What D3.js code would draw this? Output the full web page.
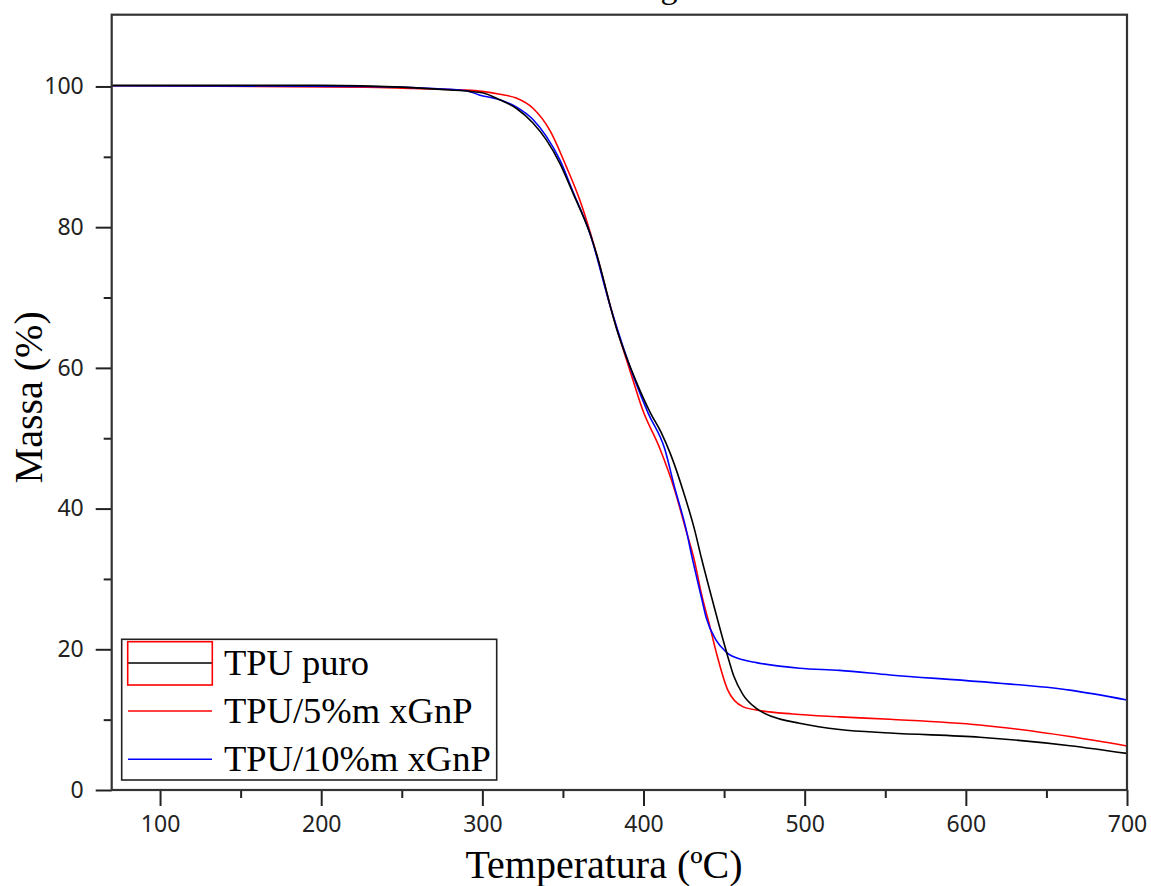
<!DOCTYPE html>
<html>
<head>
<meta charset="utf-8">
<script src="https://cdn.jsdelivr.net/npm/d3@7"></script>
<style>
  body { margin: 0; background: #fff; }
  .tick text { font-family: "Noto Sans", "Open Sans", sans-serif; fill: #222; }
</style>
</head>
<body>
<div class="chart"></div>
<script>
var svgWidth = 1151;
var svgHeight = 886;

// TGA curves: temperature (ºC) and mass (%)
var puroTemp = [70, 200, 250, 280, 292, 300, 310.8, 321, 331.4, 339.7, 348, 356.3, 366.6, 370.7, 383.5, 395, 404.5, 411, 417, 424.4, 431.7, 436, 442, 447, 452, 456, 461.6, 470, 480.2, 496.8, 521.6, 553, 608.7, 664.6, 700];
var puroMass = [100.15, 100.15, 99.9, 99.5, 99.3, 99.1, 98.1, 96.9, 94.8, 92.4, 89.1, 84.8, 79.2, 76.3, 65.4, 58.3, 53.5, 50.8, 47.6, 42.65, 36.97, 32.9, 27.6, 23.3, 19.2, 16.2, 13.6, 11.6, 10.4, 9.5, 8.6, 8.1, 7.5, 6.3, 5.2];

var gnp5Temp = [70, 227, 257, 288, 300, 310.8, 321, 331.4, 341.8, 352.1, 360.4, 370.7, 380, 393, 399.5, 410, 419.3, 426, 431.7, 435.8, 441, 445.1, 452.3, 461.6, 472, 492.6, 521.6, 553, 608.7, 664.6, 700];
var gnp5Mass = [100.1, 99.9, 99.7, 99.5, 99.3, 98.9, 98.35, 96.9, 93.8, 88.6, 83.9, 76.3, 68.25, 58.6, 54.0, 48.6, 42.65, 37.2, 32.5, 28.0, 23.4, 19.6, 14.2, 11.85, 11.3, 10.8, 10.4, 10.05, 9.24, 7.6, 6.26];

var gnp10Temp = [70, 227, 270, 290, 298, 310.8, 321, 331.4, 339.7, 348, 356.3, 366.6, 380, 394.5, 403, 413, 419.3, 426.5, 430, 435.8, 439, 445, 451.3, 461.6, 470, 496.8, 521.6, 553, 608.7, 664.6, 700];
var gnp10Mass = [100.1, 100.0, 99.7, 99.4, 98.8, 98.1, 97.1, 95.3, 92.9, 89.6, 85, 79.2, 68.25, 58.3, 53.5, 48.6, 43.0, 36.97, 33.2, 27.5, 24.4, 21.3, 19.6, 18.5, 18.1, 17.3, 17.0, 16.35, 15.4, 14.2, 12.8];

var seriesNames = ["TPU puro", "TPU/5%m xGnP", "TPU/10%m xGnP"];
var seriesColors = ["#000000", "#ff0000", "#0000ff"];

var xMajor = [100, 200, 300, 400, 500, 600, 700];
var xMinor = [150, 250, 350, 450, 550, 650];
var yMajor = [0, 20, 40, 60, 80, 100];
var yMinor = [10, 30, 50, 70, 90];

var plotLeft = 111.7, plotRight = 1127, plotTop = 14.7, plotBottom = 790;

var svg = d3.select(".chart")
  .append("svg")
  .attr("width", svgWidth)
  .attr("height", svgHeight);

var x = d3.scaleLinear().domain([70, 700]).range([plotLeft, plotRight]);
var y = d3.scaleLinear().domain([0, 110.2]).range([plotBottom, plotTop]);

// cut-off caption letter at the very top
svg.append("text")
  .attr("x", 669)
  .attr("y", -2)
  .attr("text-anchor", "middle")
  .attr("font-family", "Liberation Serif, serif")
  .attr("font-size", 34)
  .text("g");

svg.append("clipPath").attr("id", "plot")
  .append("rect")
  .attr("x", plotLeft).attr("y", plotTop)
  .attr("width", plotRight - plotLeft).attr("height", plotBottom - plotTop);

var series = [
  {name: seriesNames[0], color: seriesColors[0], temp: puroTemp, mass: puroMass},
  {name: seriesNames[1], color: seriesColors[1], temp: gnp5Temp, mass: gnp5Mass},
  {name: seriesNames[2], color: seriesColors[2], temp: gnp10Temp, mass: gnp10Mass}
];

var line = d3.line()
  .x(d => x(d[0]))
  .y(d => y(d[1]))
  .curve(d3.curveMonotoneX);

var drawOrder = [1, 2, 0];
drawOrder.forEach(function(i) {
  var s = series[i];
  svg.append("path")
    .datum(s.temp.map((t, j) => [t, s.mass[j]]))
    .attr("clip-path", "url(#plot)")
    .attr("fill", "none")
    .attr("stroke", s.color)
    .attr("stroke-width", 1.6)
    .attr("d", line);
});

// axes
svg.append("g")
  .attr("transform", `translate(0, ${plotBottom})`)
  .call(d3.axisBottom(x).tickValues(xMajor).tickSize(16).tickSizeOuter(0).tickPadding(10));
svg.append("g")
  .attr("transform", `translate(0, ${plotBottom})`)
  .call(d3.axisBottom(x).tickValues(xMinor).tickSize(8).tickSizeOuter(0).tickFormat(""));

svg.append("g")
  .attr("transform", `translate(${plotLeft}, 0)`)
  .call(d3.axisLeft(y).tickValues(yMajor).tickSize(16).tickSizeOuter(0).tickPadding(12));
svg.append("g")
  .attr("transform", `translate(${plotLeft}, 0)`)
  .call(d3.axisLeft(y).tickValues(yMinor).tickSize(8).tickSizeOuter(0).tickFormat(""));

svg.selectAll(".domain").remove();
svg.selectAll(".tick line").attr("stroke", "#222").attr("stroke-width", 2);
svg.selectAll(".tick text").attr("font-size", 23);

// frame
svg.append("rect")
  .attr("x", plotLeft).attr("y", plotTop)
  .attr("width", plotRight - plotLeft).attr("height", plotBottom - plotTop)
  .attr("fill", "none")
  .attr("stroke", "#333")
  .attr("stroke-width", 2.2);

// axis titles
svg.append("text")
  .attr("x", 604)
  .attr("y", 878)
  .attr("text-anchor", "middle")
  .attr("font-family", "Liberation Serif, serif")
  .attr("font-size", 40)
  .text("Temperatura (ºC)");

svg.append("text")
  .attr("transform", `translate(42, ${(plotTop + plotBottom) / 2 - 5}) rotate(-90)`)
  .attr("text-anchor", "middle")
  .attr("font-family", "Liberation Serif, serif")
  .attr("font-size", 40)
  .text("Massa (%)");

// legend
var legend = svg.append("g");
legend.append("rect")
  .attr("x", 121.7).attr("y", 639.3)
  .attr("width", 375).attr("height", 140.7)
  .attr("fill", "#fff")
  .attr("stroke", "#222")
  .attr("stroke-width", 1.6);

var rowY = [663, 711, 759.3];
series.forEach(function(s, i) {
  legend.append("line")
    .attr("x1", 128).attr("x2", 212)
    .attr("y1", rowY[i]).attr("y2", rowY[i])
    .attr("stroke", s.color)
    .attr("stroke-width", 1.6);
  legend.append("text")
    .attr("x", 224)
    .attr("y", rowY[i] + 12)
    .attr("font-family", "Liberation Serif, serif")
    .attr("font-size", 36.5)
    .text(s.name);
});

// red selection box around the first legend sample
legend.append("rect")
  .attr("x", 127.7).attr("y", 641.7)
  .attr("width", 84.6).attr("height", 43.3)
  .attr("fill", "none")
  .attr("stroke", "#ff0000")
  .attr("stroke-width", 1.6);
</script>
</body>
</html>
